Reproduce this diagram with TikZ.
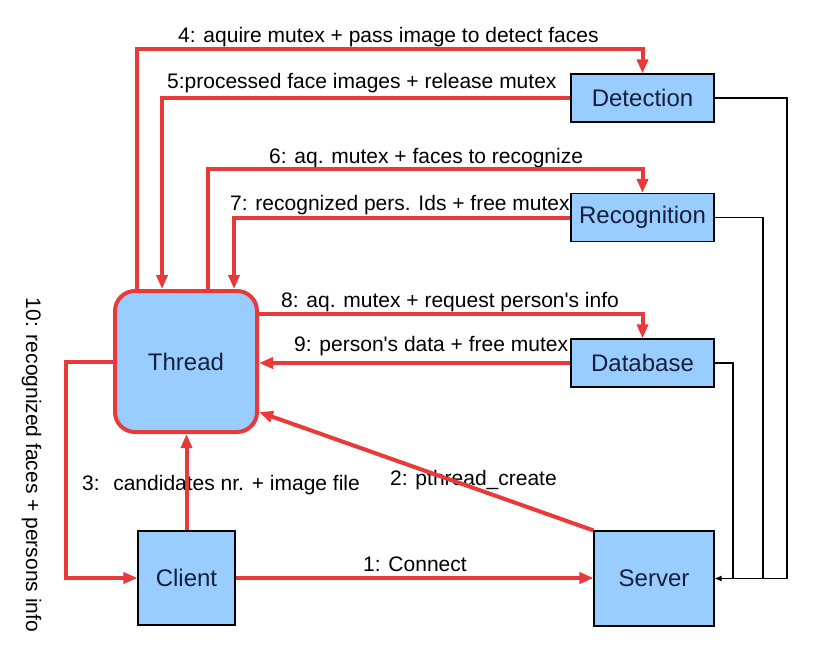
\documentclass[tikz,border=0pt]{standalone}
\usepackage{fontspec}
\setmainfont{Liberation Sans}
\usetikzlibrary{arrows.meta}
\definecolor{rd}{HTML}{E8393B}
\definecolor{bx}{HTML}{99CCFF}
\definecolor{tx}{HTML}{15203A}
\begin{document}
\begin{tikzpicture}[x=1pt,y=-1pt,
  box/.style={draw=black, line width=1.1pt, fill=bx, text=tx, font=\fontsize{24}{28}\selectfont, inner sep=0pt},
  rl/.style={draw=rd, line width=4pt, -{Triangle[length=14pt,width=11pt]}},
  bl/.style={draw=black, line width=1.1pt},
  lbl/.style={font=\fontsize{21}{25}\selectfont, anchor=base west, inner sep=0pt}]
\useasboundingbox[fill=white] (0,0) rectangle (816,663);

% nodes
\node[box, minimum width=143pt, minimum height=48pt] (det) at (642.5,98) {Detection};
\node[box, minimum width=143pt, minimum height=48pt] (rec) at (642.5,217.5) {Recognition};
\node[box, minimum width=143pt, minimum height=48pt] (db) at (642.5,363) {Database};
\node[draw=rd, line width=4pt, fill=bx, rounded corners=20pt, minimum width=142pt, minimum height=141pt, text=tx, font=\fontsize{24}{28}\selectfont, inner sep=0pt] (thr) at (186,361.5) {Thread};
\node[box, minimum width=97pt, minimum height=94pt] (cli) at (186.5,578) {Client};
\node[box, minimum width=120pt, minimum height=95pt] (srv) at (654,578.5) {Server};

% labels
\node[lbl] (l4) at (178,43) {4: aquire mutex + pass image to detect faces};
\node[lbl] (l5) at (167,88.5) {5:processed face images + release mutex};
\node[lbl] (l6) at (269,164) {6: aq. mutex + faces to recognize};
\node[lbl] (l7) at (230,211) {7: recognized pers. Ids + free mutex};
\node[lbl] (l8) at (281,307) {8: aq. mutex + request person\textquotesingle s info};
\node[lbl] (l9) at (294,351) {9: person\textquotesingle s data + free mutex};
\node[lbl] (l3) at (82,490) {3: \ candidates nr. + image file};
\node[lbl] (l2) at (390,485) {2: pthread\_create};
\node[lbl] (l1) at (363,571) {1: Connect};
\node[font=\fontsize{21}{25}\selectfont, rotate=-90, anchor=base, inner sep=0pt] (l10) at (26,465) {10: recognized faces + persons info};

% bend coordinates
\coordinate (a4) at (137,49);
\coordinate (a5) at (162,98);
\coordinate (a6) at (208,169);
\coordinate (a7) at (234,218);
\coordinate (a8) at (0,313.5);
\coordinate (a2) at (0,412);
\coordinate (a10) at (66,0);
\coordinate (b1) at (787,0);
\coordinate (b2) at (763,0);
\coordinate (b3) at (733,0);

% black connectors
\draw[bl] (det.east) -- (det.east -| b1) -- (srv.east -| b1);
\draw[bl] (rec.east) -- (rec.east -| b2) -- (srv.east -| b2);
\draw[bl] (db.east) -- (db.east -| b3) -- (srv.east -| b3);
\draw[bl, -{Latex[length=7pt,width=6pt]}] (srv.east -| b1) -- (srv.east);

% red connectors
\draw[rl] (thr.north -| a4) -- (a4) -- (a4 -| det.north) -- (det.north);
\draw[rl] (det.west) -- (det.west -| a5) -- (thr.north -| a5);
\draw[rl] (thr.north -| a6) -- (a6) -- (a6 -| rec.north) -- (rec.north);
\draw[rl] (rec.west) -- (rec.west -| a7) -- (thr.north -| a7);
\draw[rl] (thr.east |- a8) -- (db.north |- a8) -- (db.north);
\draw[rl] (db.west) -- (db.west -| thr.east);
\draw[rl] (srv.north west) -- (thr.east |- a2);
\draw[rl] (cli.north) -- (cli.north |- thr.south);
\draw[rl] (cli.east) -- (cli.east -| srv.west);
\draw[rl] (thr.west) -- (thr.west -| a10) -- (cli.west -| a10) -- (cli.west);
\end{tikzpicture}
\end{document}
